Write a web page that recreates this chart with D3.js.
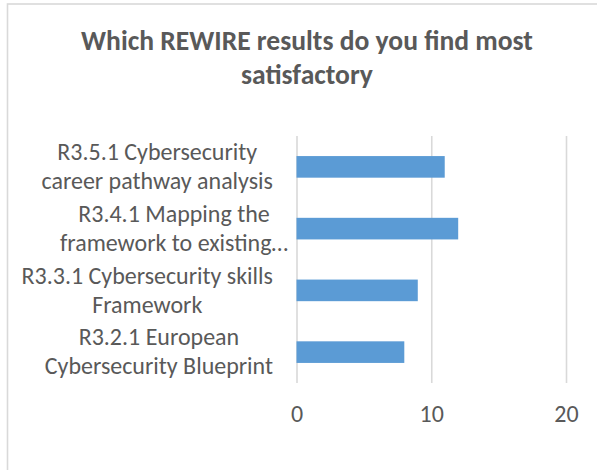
<!DOCTYPE html>
<html>
<head>
<meta charset="utf-8">
<script src="https://cdn.jsdelivr.net/npm/d3@7"></script>
<style>
  html, body { margin: 0; padding: 0; background: #fff; }
  svg { display: block; }
</style>
</head>
<body>
<svg id="chart" width="597" height="470"></svg>
<script>
// ---- data ----
const titleLines = ["Which REWIRE results do you find most", "satisfactory"];
const categories = [
  ["R3.5.1 Cybersecurity", "career pathway analysis"],
  ["R3.4.1 Mapping the", "framework to existing…"],
  ["R3.3.1 Cybersecurity skills", "Framework"],
  ["R3.2.1 European", "Cybersecurity Blueprint"]
];
const values = [11, 12, 9, 8];
const xTicks = [0, 10, 20];

// ---- setup ----
const W = 597, H = 470;
const FONT = "Carlito, Calibri, Lato, 'Open Sans', sans-serif";
const TEXT = "#595959", GRID = "#d9d9d9", BAR = "#5b9bd5";
const svg = d3.select("#chart");

svg.append("rect").attr("width", W).attr("height", H).attr("fill", "#fff");
// chart area border (extends beyond the picture on right/bottom)
svg.append("rect")
  .attr("x", 7.5).attr("y", 4).attr("width", 800).attr("height", 800)
  .attr("fill", "none").attr("stroke", GRID).attr("stroke-width", 1.6);

// font fitting helper: size so that text reaches target width
function fitSize(txt, weight, target) {
  const t = svg.append("text").attr("font-family", FONT).attr("font-weight", weight)
    .attr("font-size", 100).text(txt);
  const w = t.node().getComputedTextLength();
  t.remove();
  return 100 * target / w;
}
const titleSize = fitSize(titleLines[0], "bold", 452);
const labelSize = fitSize(categories[0][0], "normal", 200);

// ---- title ----
const title = svg.append("text")
  .attr("font-family", FONT).attr("font-weight", "bold")
  .attr("font-size", titleSize).attr("fill", TEXT)
  .attr("text-anchor", "middle");
titleLines.forEach((l, i) => {
  title.append("tspan").attr("x", 307).attr("y", 50 + i * 33.7).text(l);
});

// ---- scales ----
const x = d3.scaleLinear().domain([0, 20]).range([296.5, 566]);
const y = d3.scaleBand().domain(d3.range(categories.length))
  .range([136, 383]).paddingInner(0.65).paddingOuter(0.325);

// ---- gridlines + tick labels via axis ----
const plotH = 383 - 136;
const ax = svg.append("g").attr("transform", "translate(0,383)")
  .call(d3.axisBottom(x).tickValues(xTicks).tickSizeInner(-plotH).tickSizeOuter(0).tickFormat(d3.format("d")));
ax.select(".domain").remove();
ax.selectAll(".tick line").attr("stroke", GRID).attr("stroke-width", 1.6);
ax.selectAll(".tick text")
  .attr("font-family", FONT).attr("font-size", labelSize).attr("fill", TEXT)
  .attr("y", 38.7).attr("dy", null);

// ---- bars ----
svg.append("g").selectAll("rect").data(values).join("rect")
  .attr("x", x(0))
  .attr("y", (d, i) => y(i))
  .attr("width", d => x(d) - x(0))
  .attr("height", y.bandwidth())
  .attr("fill", BAR);

// ---- category labels (centered multi-line blocks, right-aligned to the axis) ----
const lineH = 29;
categories.forEach((lines, i) => {
  const g = svg.append("text")
    .attr("font-family", FONT).attr("font-size", labelSize).attr("fill", TEXT)
    .attr("text-anchor", "middle");
  const spans = lines.map((l, k) => g.append("tspan").text(l));
  const maxW = d3.max(spans, s => s.node().getComputedTextLength());
  const truncated = lines.some(l => l.endsWith("…"));
  const rightEdge = x(0) - (truncated ? 8.5 : 23.5);
  const cx = rightEdge - maxW / 2;
  const cy = y(i) + y.bandwidth() / 2;
  const base = cy - lineH * lines.length / 2 + 0.95 * 24 - 0.5;
  spans.forEach((s, k) => s.attr("x", cx).attr("y", base + k * lineH));
});
</script>
</body>
</html>
